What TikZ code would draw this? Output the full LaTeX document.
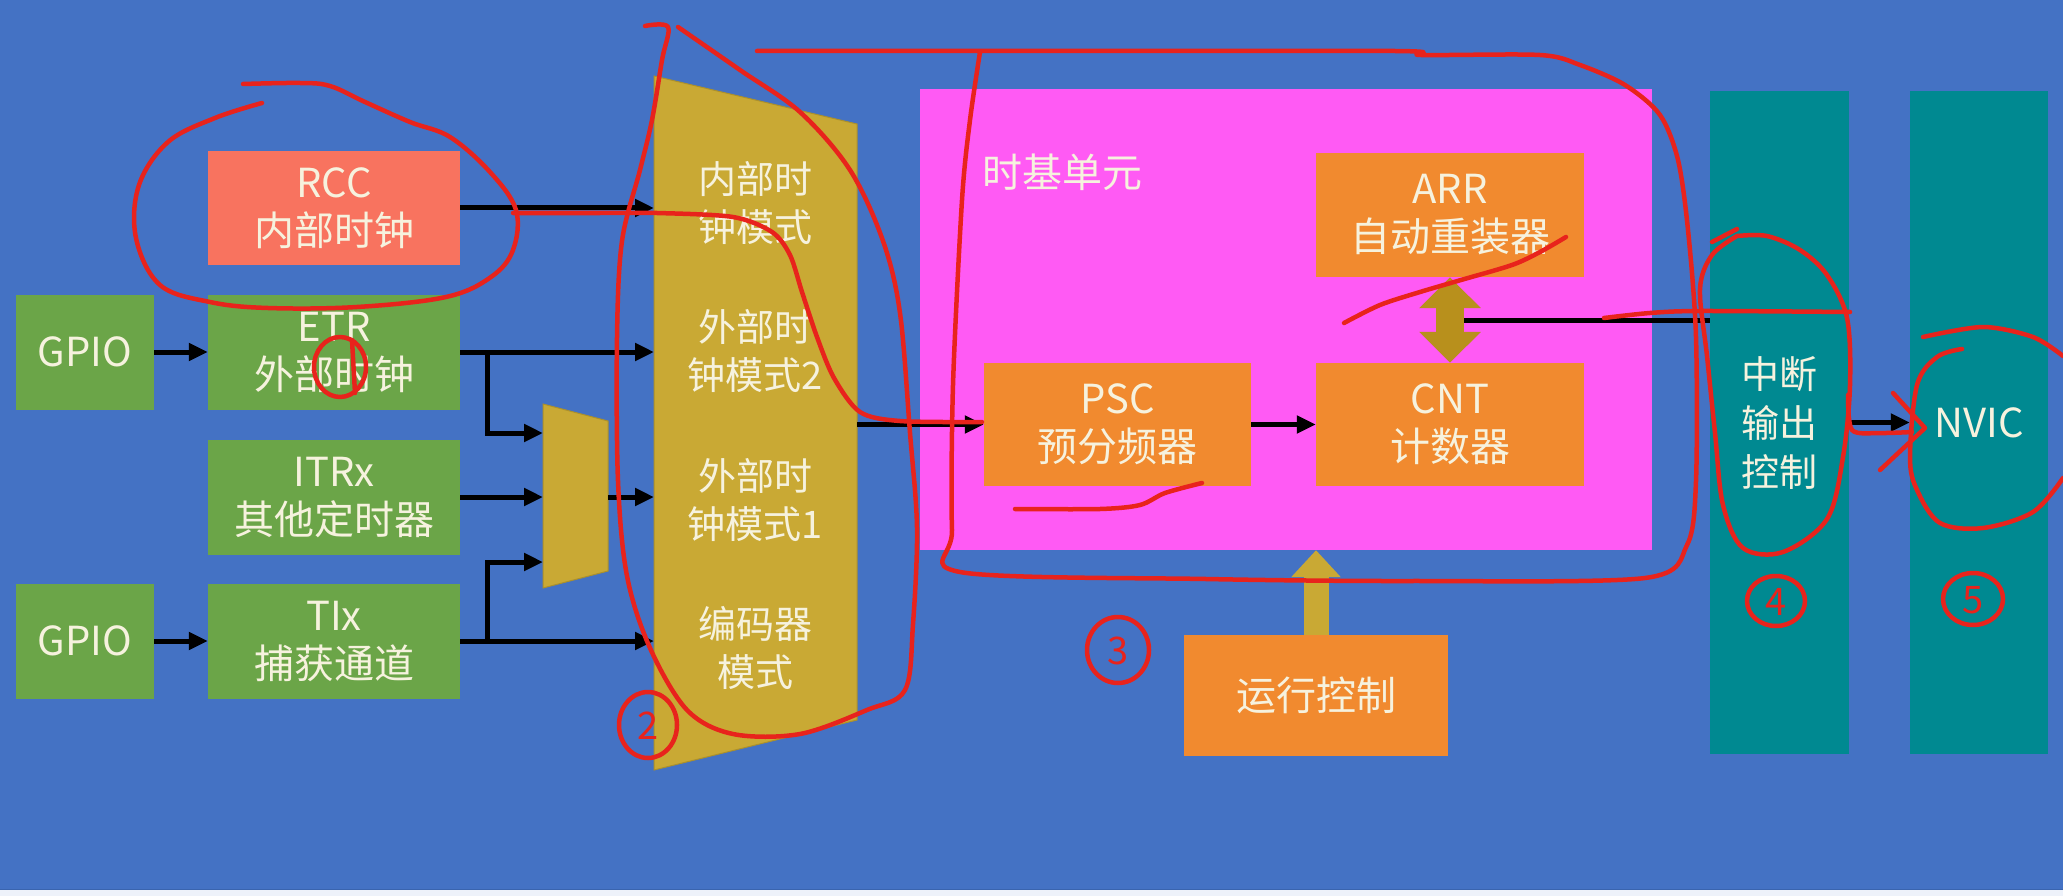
\documentclass[tikz,border=0pt]{standalone}
\usepackage{fontspec}
\setmainfont{Noto Sans CJK SC}
\usetikzlibrary{arrows.meta}
\definecolor{bgblue}{HTML}{4472C4}
\definecolor{rccred}{HTML}{F8735F}
\definecolor{boxgreen}{HTML}{6BA548}
\definecolor{gold}{HTML}{C9A934}
\definecolor{darkgold}{HTML}{B8901C}
\definecolor{pinkbox}{HTML}{FF5AF4}
\definecolor{orangebox}{HTML}{F18A2F}
\definecolor{tealcol}{HTML}{008991}
\definecolor{txt}{HTML}{F6F2DE}
\definecolor{penred}{HTML}{E8231C}
\definecolor{strip}{HTML}{EEF2FA}
\definecolor{stripline}{HTML}{3A64AE}
\tikzset{
  blk/.style={inner sep=0pt, text=txt, align=center, font=\fontsize{40}{48}\selectfont},
  rccbox/.style={blk, fill=rccred, minimum width=252pt, minimum height=114pt},
  gbox/.style={blk, fill=boxgreen, minimum width=252pt, minimum height=115pt},
  gpiobox/.style={blk, fill=boxgreen, minimum width=138pt, minimum height=115pt},
  obox/.style={blk, fill=orangebox, minimum width=267pt, minimum height=123pt},
  tealbox/.style={blk, fill=tealcol, minimum width=139pt, minimum height=663pt, font=\fontsize{38}{49}\selectfont},
  modetxt/.style={blk, font=\fontsize{38}{48}\selectfont},
  wire/.style={line width=5pt, draw=black},
  conn/.style={wire, -{Triangle[length=19pt,width=17pt]}},
  redpen/.style={draw=penred, line width=4.5pt, line cap=round, line join=round},
  digit/.style={text=penred, font=\fontsize{38}{38}\selectfont, inner sep=0pt},
}
\begin{document}
\begin{tikzpicture}[x=1pt,y=-1pt]
\useasboundingbox (0,0) rectangle (2063,896);
\fill[bgblue] (0,0) rectangle (2063,890);
\fill[strip] (0,890) rectangle (2063,896);
\draw[stripline, line width=1.5pt] (0,889.5) -- (2063,889.5);

% left column
\node[rccbox] (rcc) at (334,208) {RCC\\内部时钟};
\node[gpiobox] (gpio1) at (85,352) {GPIO};
\node[gbox] (etr) at (334,352) {ETR\\外部时钟};
\node[gbox] (itr) at (334,497) {ITRx\\其他定时器};
\node[gpiobox] (gpio2) at (85,641) {GPIO};
\node[gbox] (tix) at (334,641) {TIx\\捕获通道};

% trapezoids
\fill[gold, draw=gold!85!black, line width=1pt] (654,76) -- (857,124) -- (857,720) -- (654,770) -- cycle;
\fill[gold, draw=gold!85!black, line width=1pt] (543,404) -- (608,421) -- (608,571) -- (543,588) -- cycle;
\coordinate (bigleft) at (654,0);
\coordinate (branchx) at (487,0);
\coordinate (s1) at (543,433);
\coordinate (s2) at (543,497);
\coordinate (s3) at (543,562);
\coordinate (sout) at (608,497);
\coordinate (bigin) at (654,497);
\coordinate (mout) at (857,424.5);

\node[modetxt] (m1) at (755,203) {内部时\\钟模式};
\node[modetxt] (m2) at (755,351) {外部时\\钟模式2};
\node[modetxt] (m3) at (755,500) {外部时\\钟模式1};
\node[modetxt] (m4) at (755,648) {编码器\\模式};

% time base unit
\node[fill=pinkbox, minimum width=732pt, minimum height=461pt, inner sep=0pt] (tb) at (1286,319.5) {};
\node[blk, anchor=west] (tblabel) at (982,172) {时基单元};
\node[obox, minimum width=268pt, minimum height=124pt] (arr) at (1450,215) {ARR\\自动重装器};
\node[obox, minimum width=268pt] (cnt) at (1450,424.5) {CNT\\计数器};
\node[obox] (psc) at (1117.5,424.5) {PSC\\预分频器};
\node[obox, minimum width=264pt, minimum height=121pt] (run) at (1316,695.5) {运行控制};

% right columns
\node[tealbox] (teal1) at (1779.5,422.5) {中断\\输出\\控制};
\node[tealbox, minimum width=138pt, font=\fontsize{40}{48}\selectfont] (teal2) at (1979,422.5) {NVIC};

% connectors
\draw[conn] (gpio1) -- (etr);
\draw[conn] (gpio2) -- (tix);
\draw[conn] (rcc.east) -- (rcc.east -| bigleft);
\draw[conn] (etr.east) -- (etr.east -| bigleft);
\draw[conn] (etr.east -| branchx) |- (s1);
\draw[conn] (itr.east) -- (s2);
\draw[conn] (tix.east) -- (tix.east -| bigleft);
\draw[conn] (tix.east -| branchx) |- (s3);
\draw[conn] (sout) -- (bigin);
\draw[conn] (mout) -- (psc.west);
\draw[conn] (psc) -- (cnt);
\coordinate (dj) at (1451,320);
\draw[wire] (dj) -- (dj -| teal1.west);
\draw[darkgold, line width=28pt, {Triangle[length=31pt,width=60pt]}-{Triangle[length=31pt,width=60pt]}] (arr.south) -- (cnt.north);
\draw[gold, line width=25pt, -{Triangle[length=27pt,width=48pt]}] (run.north) -- (run.north |- tb.south);
\draw[conn] (teal1) -- (teal2);

% red annotations
\draw[redpen] plot[smooth, tension=0.6] coordinates {(243,84) (300,83) (330,86) (365,102) (410,122) (450,137) (490,172) (516,210) (513,250) (491,277) (446,297) (357,307) (268,308) (210,302) (160,285) (136,238) (139,185) (168,142) (215,118) (262,103)};
\draw[redpen] plot[smooth, tension=0.5] coordinates {(513,213) (600,213) (657,213) (733,217) (772,232) (790,255) (802,292) (817,337) (834,378) (860,412) (900,421) (982,422)};
\draw[redpen] (340,367) ellipse [x radius=26pt, y radius=30pt];
\draw[redpen] (352,340) -- (355,393);
\draw[redpen] plot[smooth, tension=0.55] coordinates {(645,26) (668,27) (662,60) (652,120) (640,170) (622,241) (617,337) (618,481) (627,576) (650,648) (687,710) (733,734) (800,734) (867,710) (905,690) (913,624) (917,528) (910,433) (900,313) (883,241) (850,170) (800,112) (740,70) (678,27)};
\draw[redpen] (648,725) ellipse [x radius=29pt, y radius=33pt];
\node[digit] (d2) at (648,726) {2};
\draw[redpen] plot[smooth, tension=0.5] coordinates {(757,51) (1000,51) (1395,51) (1421,55) (1540,55) (1580,65) (1625,85) (1660,115) (1678,160) (1688,230) (1696,337) (1696,481) (1687,545) (1645,578) (1410,581) (1206,579) (960,572) (952,530) (953,385) (962,200) (970,120) (980,52)};
\draw[redpen] (1118,650) ellipse [x radius=31pt, y radius=33pt];
\node[digit] (d3) at (1118,651) {3};
\draw[redpen] plot[smooth] coordinates {(1344,323) (1380,305) (1420,292) (1461,280) (1512,265) (1540,252) (1566,237)};
\draw[redpen] plot[smooth] coordinates {(1015,509) (1100,509) (1140,505) (1165,493) (1202,483)};
\draw[redpen] plot[smooth] coordinates {(1604,318) (1650,313) (1700,311) (1850,312)};
\draw[redpen] (1712,242) -- (1737,229);
\draw[redpen] plot[smooth, tension=0.55] coordinates {(1737,236) (1767,236) (1800,250) (1827,275) (1847,318) (1850,385) (1843,457) (1827,519) (1783,552) (1743,548) (1723,505) (1715,433) (1707,356) (1700,289) (1712,255) (1737,236)};
\draw[redpen] plot[smooth] coordinates {(1848,395) (1852,430) (1880,433) (1912,432)};
\draw[redpen] (1893,393) -- (1925,428) -- (1880,470);
\draw[redpen] (1776,601) ellipse [x radius=29pt, y radius=25pt];
\node[digit] (d4) at (1776,602) {4};
\draw[redpen] plot[smooth] coordinates {(1923,337) (1983,327) (2033,337) (2063,356)};
\draw[redpen] plot[smooth, tension=0.55] coordinates {(2063,478) (2033,512) (1983,528) (1940,523) (1917,490) (1910,457) (1917,385) (1937,357) (1962,349)};
\draw[redpen] (1973,599) ellipse [x radius=30pt, y radius=26pt];
\node[digit] (d5) at (1973,600) {5};
\end{tikzpicture}
\end{document}
